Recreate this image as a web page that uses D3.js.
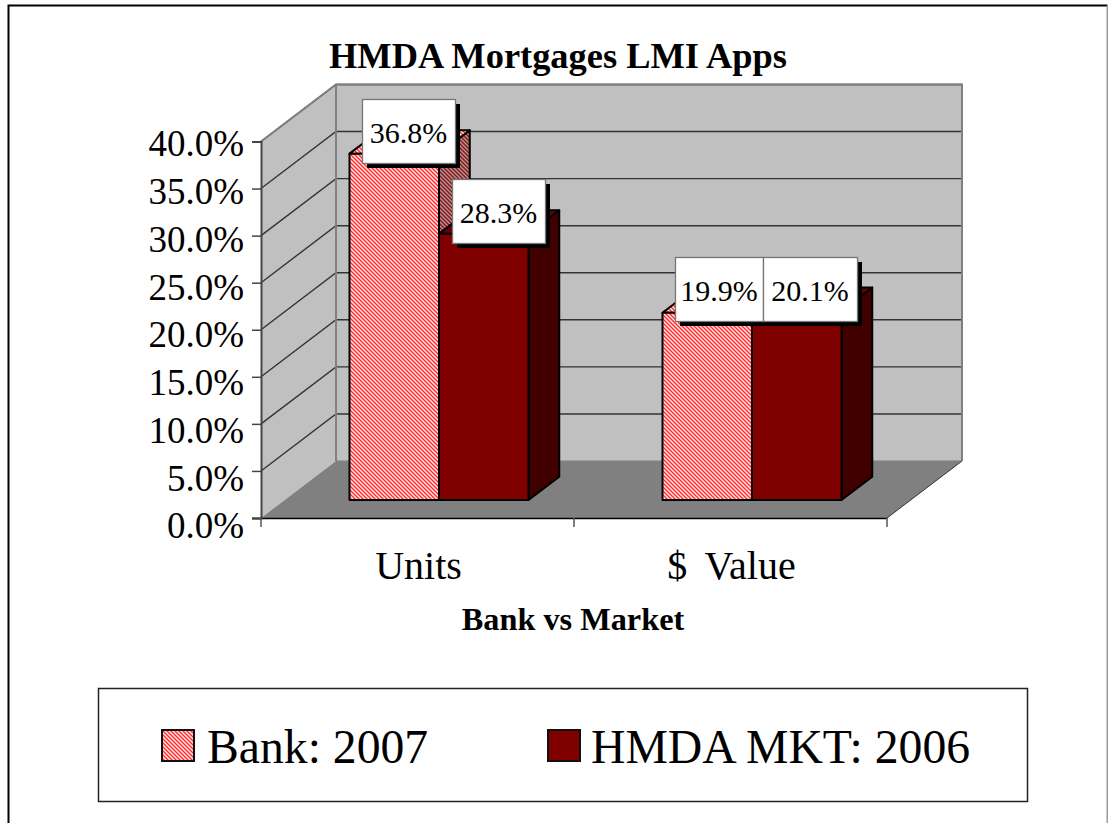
<!DOCTYPE html>
<html><head><meta charset="utf-8">
<script src="https://cdn.jsdelivr.net/npm/d3@7"></script>
<style>
html,body{margin:0;padding:0;background:#fff;overflow:hidden}
text{font-family:"Liberation Serif",serif;fill:#000}
</style></head><body><div id="c"></div>
<script>
const chartTitle = "HMDA Mortgages LMI Apps";
const xTitle = "Bank vs Market";
const categories = ["Units", "$ Value"];
const seriesNames = ["Bank: 2007", "HMDA MKT: 2006"];
const bankValues = [36.8, 19.9];
const marketValues = [28.3, 20.1];
const yTicks = [0, 5, 10, 15, 20, 25, 30, 35, 40];

const W = 1108, H = 823;
const svg = d3.select("#c").append("svg").attr("width", W).attr("height", H).style("display","block");
const defs = svg.append("defs");
const mkPattern = (id, cols) => {
  const p = defs.append("pattern").attr("id",id).attr("patternUnits","userSpaceOnUse").attr("width",4).attr("height",4);
  d3.range(4).forEach(px=>d3.range(4).forEach(py=>{
    p.append("rect").attr("x",px).attr("y",py).attr("width",1).attr("height",1).attr("fill",cols[(px-py+4)%4]).attr("shape-rendering","crispEdges");
  }));
};
mkPattern("hatch",["#ff2a2a","#ff8c8c","#ffe4e4","#ff8c8c"]);
mkPattern("hatchDark",["#7c1414","#a05a5a","#b88c8c","#a05a5a"]);

// page frame
svg.append("path").attr("d","M1107.5,5.5H8.5V823").attr("fill","none").attr("stroke","#000").attr("stroke-width",2);
svg.append("path").attr("d","M1107.5,5.5V823").attr("fill","none").attr("stroke","#9a9a9a").attr("stroke-width",2);

const y = d3.scaleLinear().domain([0,40]).range([518,141.5]);
const yLabel = d3.scaleLinear().domain([0,40]).range([526,144]);
const x = d3.scaleBand().domain(categories).range([261,887]);
const depthX = 75, depthY = -57;
const fold = (px,py,f)=>[px+depthX*f, py+depthY*f];
const line = d3.line();
const gray = "#c0c0c0", wallLine = "#808080";
const x0 = x.range()[0], x1 = x.range()[1];
const yTop = y(40), yBot = y(0);

svg.append("path").attr("d",line([fold(x0,yTop,1),fold(x1,yTop,1),fold(x1,yBot,1),fold(x0,yBot,1)])+"Z").attr("fill",gray);
svg.append("path").attr("d",line([[x0,yTop],fold(x0,yTop,1),fold(x0,yBot,1),[x0,yBot]])+"Z").attr("fill",gray);
svg.append("path").attr("d",line([[x0,yBot],[x1,yBot],fold(x1,yBot,1),fold(x0,yBot,1)])+"Z").attr("fill","#808080");
yTicks.filter(t=>t>0).forEach(t=>{
  const yy=y(t);
  svg.append("path").attr("d",line([[x0,yy],fold(x0,yy,1),fold(x1,yy,1)])).attr("fill","none")
    .attr("stroke",t==40?"#222":"#333").attr("stroke-width",1.4);
});
svg.append("path").attr("d",line([[x0,yTop],fold(x0,yTop,1),fold(x1,yTop,1),fold(x1,yBot,1)])).attr("fill","none").attr("stroke",wallLine).attr("stroke-width",2);
svg.append("path").attr("d",line([fold(x0,yTop,1),fold(x0,yBot,1)])).attr("fill","none").attr("stroke",wallLine).attr("stroke-width",2);
svg.append("path").attr("d",line([fold(x0,yBot,1),fold(x1,yBot,1)])).attr("fill","none").attr("stroke",wallLine).attr("stroke-width",1);
svg.append("path").attr("d",line([[x1,yBot],fold(x1,yBot,1)])).attr("fill","none").attr("stroke","#333").attr("stroke-width",1);

// bars
const barF0 = 0.315, barD = 0.41;
const inner = d3.scaleBand().domain([0,1]).range([0,179]);
const groupOffset = 88.5;
const rows = [
  {vals:bankValues, front:"url(#hatch)", side:"url(#hatchDark)", top:"url(#hatch)"},
  {vals:marketValues, front:"#800000", side:"#400000", top:"#660000"}
];
const barDX = depthX*barD, barDY = depthY*barD;
const base = y(0) + depthY*barF0;
const yv = v => y(v) + depthY*barF0;
const labels=[];
categories.forEach((c,ci)=>{
  [0,1].forEach(si=>{
    const r=rows[si], v=r.vals[ci];
    const bx = x(c)+groupOffset+inner(si);
    const bw = inner.bandwidth();
    const t = yv(v);
    const g=svg.append("g").attr("stroke","#000").attr("stroke-width",2).attr("stroke-linejoin","round");
    g.append("path").attr("fill",r.side).attr("d",line([[bx+bw,t],[bx+bw+barDX,t+barDY],[bx+bw+barDX,base+barDY],[bx+bw,base]])+"Z");
    g.append("path").attr("fill",r.top).attr("d",line([[bx,t],[bx+barDX,t+barDY],[bx+bw+barDX,t+barDY],[bx+bw,t]])+"Z");
    g.append("rect").attr("x",bx).attr("y",t).attr("width",bw).attr("height",base-t).attr("fill",r.front);
    labels[ci*2+si]={v};
  });
});

// axes
svg.append("line").attr("x1",x0-9).attr("x2",x1).attr("y1",yBot+.5).attr("y2",yBot+.5).attr("stroke","#000").attr("stroke-width",1.5);
const yAxis = d3.axisLeft(y).tickValues(yTicks).tickSize(9).tickPadding(8).tickFormat(d=>d3.format(".1f")(d)+"%");
const ya = svg.append("g").attr("transform",`translate(${x0},0)`).call(yAxis);
ya.select(".domain").attr("stroke","#444").attr("stroke-width",2);
ya.selectAll(".tick line").attr("stroke","#444").attr("stroke-width",1.5);
ya.selectAll("text").style("font-family",'"Liberation Serif",serif').style("font-size","37px").attr("fill","#000")
  .attr("y",d=>yLabel(d)-y(d)).attr("dy","0.32em");
[x0, x0+x.bandwidth(), x1].forEach(p=>svg.append("line").attr("x1",p).attr("x2",p).attr("y1",yBot).attr("y2",yBot+9).attr("stroke","#555").attr("stroke-width",1.5));
categories.forEach(c=>svg.append("text").attr("x",x(c)+x.bandwidth()/2+1).attr("y",579).attr("text-anchor","middle")
  .style("font-size","40px").style("word-spacing","8px").text(c));

// data labels
const lw = [93,93,88,94], lh = 64;
const lTop = [99,179,257,257], lLeft=[362,452,675,763];
d3.range(4).forEach(i=>{
  svg.append("rect").attr("x",lLeft[i]+5).attr("y",lTop[i]+5).attr("width",lw[i]).attr("height",lh).attr("fill","#000");
});
d3.range(4).forEach(i=>{
  svg.append("rect").attr("x",lLeft[i]+.5).attr("y",lTop[i]+.5).attr("width",lw[i]).attr("height",lh).attr("fill","#fff").attr("stroke","#777").attr("stroke-width",1.3);
  svg.append("text").attr("x",lLeft[i]+lw[i]/2).attr("y",lTop[i]+44).attr("text-anchor","middle").style("font-size","30px").text(d3.format(".1f")(labels[i].v)+"%");
});

// titles
svg.append("text").attr("x",558).attr("y",68).attr("text-anchor","middle").style("font-size","36.4px").style("font-weight","bold").text(chartTitle);
svg.append("text").attr("x",573).attr("y",630).attr("text-anchor","middle").style("font-size","32.3px").style("font-weight","bold").text(xTitle);

// legend
svg.append("rect").attr("x",98.5).attr("y",688.5).attr("width",929).attr("height",113).attr("fill","#fff").attr("stroke","#222").attr("stroke-width",1.5);
const legX=[162,548], textX=[207,591];
seriesNames.forEach((n,i)=>{
  svg.append("rect").attr("x",legX[i]).attr("y",730).attr("width",32).attr("height",31).attr("fill",rows[i].front).attr("stroke","#111").attr("stroke-width",2);
  svg.append("text").attr("x",textX[i]).attr("y",763).style("font-size","47.7px").text(n);
});
</script></body></html>
